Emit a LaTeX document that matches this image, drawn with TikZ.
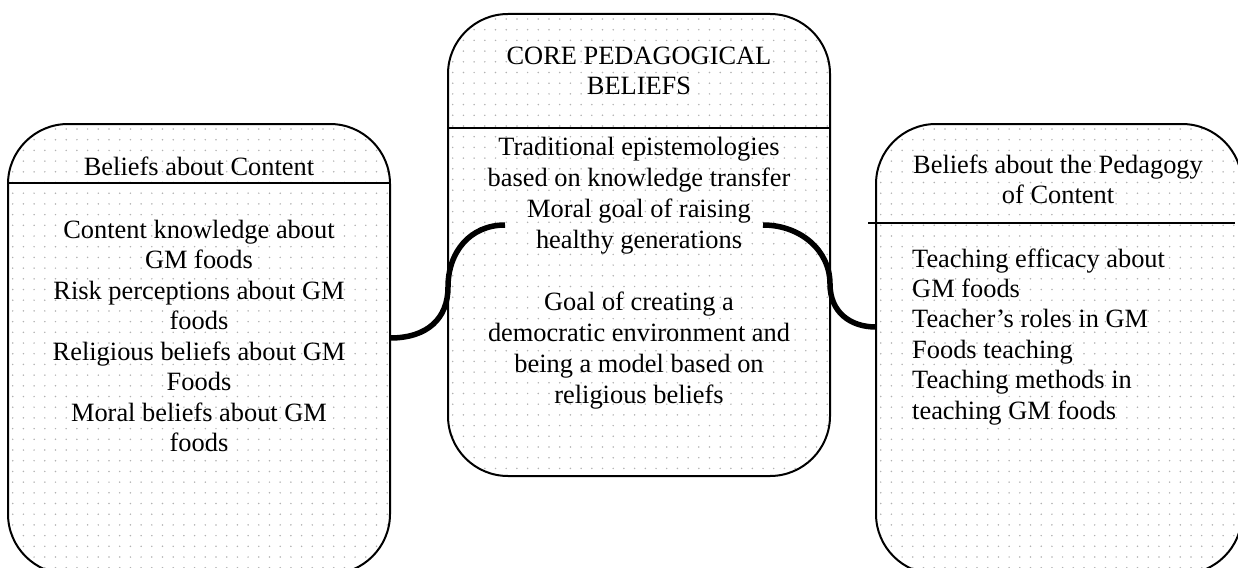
\documentclass[tikz,border=0pt]{standalone}
\usepackage{fontspec}
\setmainfont{Liberation Serif}
\begin{document}
\begin{tikzpicture}[x=1pt,y=-1pt,
  box/.style={draw=black, line width=2pt, rectangle, rounded corners=60pt,
    inner sep=0pt, outer sep=0pt},
  dotrow/.style={draw=black!30, line width=1.7pt, line cap=round, dash pattern=on 0pt off 10.7pt},
  sep/.style={draw=black, line width=2pt},
  link/.style={draw=black, line width=5.5pt},
  txt/.style={inner sep=0pt, anchor=base, font=\fontsize{26.4}{30.5}\selectfont},
  ltxt/.style={txt, anchor=base west}]
\useasboundingbox (0,0) rectangle (1238,567);
\clip (0,0) rectangle (1238,567);
% dot fill of the boxes
\begin{scope}
  \clip[rounded corners=60pt] (8,124) rectangle (390,574);
  \foreach \k in {0,...,42} \draw[dotrow] (2,129+10.7*\k) -- (400,129+10.7*\k);
\end{scope}
\begin{scope}
  \clip[rounded corners=60pt] (448,14) rectangle (830,476);
  \foreach \k in {0,...,43} \draw[dotrow] (442,19+10.7*\k) -- (840,19+10.7*\k);
\end{scope}
\begin{scope}
  \clip[rounded corners=60pt] (876,124) rectangle (1242,574);
  \foreach \k in {0,...,42} \draw[dotrow] (870,129+10.7*\k) -- (1250,129+10.7*\k);
\end{scope}
% boxes
\node[box, minimum width=382pt, minimum height=450pt] (lbox) at (199,349) {};
\node[box, minimum width=382pt, minimum height=462pt] (cbox) at (639,245) {};
\node[box, minimum width=366pt, minimum height=450pt] (rbox) at (1059,349) {};
% separators
\coordinate (ls1) at (8,183);   \coordinate (ls2) at (390,183);
\coordinate (cs1) at (448,128); \coordinate (cs2) at (830,128);
\coordinate (rs1) at (868,223); \coordinate (rs2) at (1235,223);
\draw[sep] (ls1) -- (ls2);
\draw[sep] (cs1) -- (cs2);
\draw[sep] (rs1) -- (rs2);
% headers
\node[txt] (lh) at (199,175) {Beliefs about Content};
\node[txt] (ch1) at (639,65) {CORE PEDAGOGICAL};
\node[txt] (ch2) at (639,95) {BELIEFS};
\node[txt] (rh1) at (1058,173) {Beliefs about the Pedagogy};
\node[txt] (rh2) at (1058,203) {of Content};
% left body
\foreach \t [count=\i from 0] in {Content knowledge about, GM foods, Risk perceptions about GM, foods, Religious beliefs about GM, Foods, Moral beliefs about GM, foods}
  \node[txt] (lb\i) at (199,238+30.5*\i) {\t};
% center body
\foreach \t/\y [count=\i] in {Traditional epistemologies/155, based on knowledge transfer/186, Moral goal of raising/217, healthy generations/248, Goal of creating a/310, democratic environment and/341, being a model based on/372, religious beliefs/403}
  \node[txt] (cb\i) at (639,\y) {\t};
% right body
\foreach \t [count=\i from 0] in {Teaching efficacy about, GM foods, Teacher’s roles in GM, Foods teaching, Teaching methods in, teaching GM foods}
  \node[ltxt] (rb\i) at (912,267+30.4*\i) {\t};
% connectors
\coordinate (la) at (390,338);
\coordinate (lm) at (448,287);
\coordinate (lc) at (505,225);
\coordinate (ra) at (763,225);
\coordinate (rm) at (830,284);
\coordinate (rc) at (876,327);
\draw[link] (la) .. controls (428,338) and (448,318) .. (lm)
                 .. controls (448,252) and (470,225) .. (lc);
\draw[link] (ra) .. controls (800,225) and (830,250) .. (rm)
                 .. controls (830,312) and (850,327) .. (rc);
\end{tikzpicture}
\end{document}
